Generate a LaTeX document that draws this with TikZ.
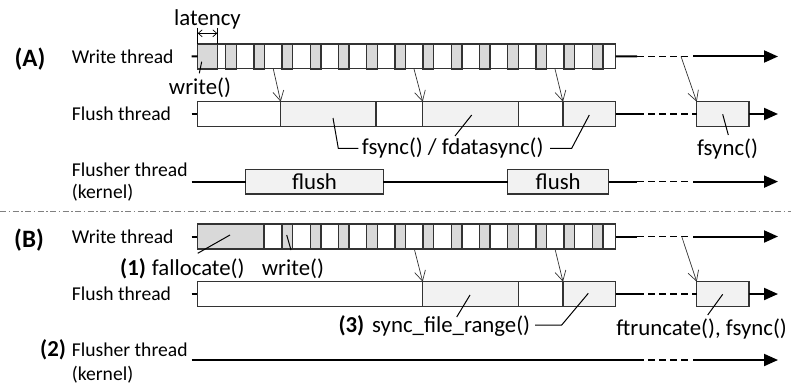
\documentclass[tikz,border=0pt]{standalone}
\usepackage{fontspec}
\setmainfont{Carlito}
\usetikzlibrary{arrows.meta}
\definecolor{cellgray}{HTML}{D9D9D9}
\definecolor{boxgray}{HTML}{F2F2F2}
\definecolor{edge}{HTML}{333333}
\begin{document}
\begin{tikzpicture}[x=1pt,y=-1pt,
  thread/.style={font=\fontsize{19.6}{22}\selectfont, anchor=base west, inner sep=0},
  call/.style={font=\fontsize{22.8}{25}\selectfont, anchor=base west, inner sep=0},
  tag/.style={font=\fontsize{25}{27}\selectfont\bfseries, inner sep=0},
  num/.style={font=\fontsize{22.8}{25}\selectfont\bfseries, anchor=base west, inner sep=0},
  seg/.style={draw=edge, line width=1.4pt, anchor=north west, inner sep=0, outer sep=0,
              minimum height=24.6pt},
  cellbox/.style={draw=edge, line width=1.4pt, fill=cellgray},
  timeline/.style={line width=2pt},
  dashpart/.style={line width=1.3pt, dash pattern=on 7pt off 4pt},
  handoff/.style={draw=edge, line width=0.7pt, -{Straight Barb[length=10pt,width=11pt]}},
  leader/.style={line width=1pt},
  endtip/.style={-{Triangle[length=14pt,width=12pt]}},
  span/.style={line width=0.7pt, {Straight Barb[length=4pt,width=7pt]}-{Straight Barb[length=4pt,width=7pt]}},
]
\useasboundingbox (0,0) rectangle (791,385);

% ---------------- (A) ----------------
\node[tag] (tagA) at (30,59) {(A)};

% write thread
\node[thread] (lwa) at (71.7,64) {Write thread};
\node[seg, minimum width=418pt] (wa) at (197.7,44) {};
\draw[cellbox] (197.7,44) rectangle (217.3,69);
\foreach \i in {0,...,13}
  \draw[cellbox] ({225.7+28.2*\i},44) rectangle ++(10.5,25);
\coordinate (wa-tick) at (191.7,56.5);
\draw[timeline] (wa-tick) -- (wa.west);
\coordinate (wa-d0) at (637,56.5);
\coordinate (wa-d1) at (690,56.5);
\coordinate (wa-s) at (693,56.5);
\coordinate (wa-end) at (778,56.5);
\draw[timeline] (wa.east) -- (wa-d0);
\draw[dashpart] (wa-d0) -- (wa-d1);
\draw[timeline, endtip] (wa-s) -- (wa-end);

% latency span
\node[call, anchor=base] (lat) at (207.5,26) {latency};
\coordinate (lat-l) at (197.7,33.3);
\coordinate (lat-r) at (217.3,33.3);
\draw[line width=0.7pt] (197.7,28) -- (197.7,44) (217.3,28) -- (217.3,44);
\draw[span] (lat-l) -- (lat-r);

% write() label
\node[call, anchor=base] (wra) at (200,95) {write()};
\coordinate (wra-a) at (201.7,61.7);
\coordinate (wra-b) at (199.3,73.3);
\draw[leader] (wra-a) -- (wra-b);

% flush thread
\node[thread] (lfa) at (71.7,120.5) {Flush thread};
\node[seg, minimum width=83.4pt] (fa1) at (197.3,101.7) {};
\node[seg, fill=boxgray, minimum width=95.3pt] (fa2) at (280.7,101.7) {};
\node[seg, minimum width=46.7pt] (fa3) at (376,101.7) {};
\node[seg, fill=boxgray, minimum width=95.6pt] (fa4) at (422.7,101.7) {};
\node[seg, minimum width=44.7pt] (fa5) at (518.3,101.7) {};
\node[seg, fill=boxgray, minimum width=52.5pt] (fa6) at (563,101.7) {};
\node[seg, fill=boxgray, minimum width=52.3pt] (fa7) at (696.7,101.7) {};
\coordinate (fa-tick) at (191.7,114);
\coordinate (fa-d0) at (637,114);
\coordinate (fa-end) at (778,114);
\draw[timeline] (fa-tick) -- (fa1.west);
\draw[timeline] (fa6.east) -- (fa-d0);
\draw[dashpart] (fa-d0) -- (fa7.west);
\draw[timeline, endtip] (fa7.east) -- (fa-end);

% hand-offs from the write thread
\coordinate (ha1) at (273.3,69);
\coordinate (ha2) at (414,69);
\coordinate (ha3) at (555,69);
\coordinate (ha4) at (681,56.5);
\draw[handoff] (ha1) -- (fa2.north west);
\draw[handoff] (ha2) -- (fa4.north west);
\draw[handoff] (ha3) -- (fa6.north west);
\draw[handoff] (ha4) -- (fa7.north west);

% sync call labels
\node[call] (fsa) at (361.7,154) {fsync() / fdatasync()};
\coordinate (la1) at (333,118);
\coordinate (la1b) at (338.3,148.3);
\coordinate (la1c) at (358.3,148.3);
\draw[leader] (la1) -- (la1b) -- (la1c);
\coordinate (la2) at (471.7,115);
\coordinate (la2b) at (455,136);
\draw[leader] (la2) -- (la2b);
\coordinate (la3) at (589.3,115);
\coordinate (la3b) at (571.7,148.3);
\coordinate (la3c) at (550,148.3);
\draw[leader] (la3) -- (la3b) -- (la3c);
\node[call, anchor=base] (fsr) at (727.5,155) {fsync()};
\coordinate (la4) at (722.7,114.3);
\coordinate (la4b) at (728.3,135);
\draw[leader] (la4) -- (la4b);

% flusher thread (kernel)
\node[thread] (lka) at (71.7,176.7) {Flusher thread};
\node[thread] (lka2) at (71.7,198.3) {(kernel)};
\node[seg, fill=boxgray, minimum width=137.6pt, font=\fontsize{22.8}{25}\selectfont] (fl1) at (245.7,169.3) {flush};
\node[seg, fill=boxgray, minimum width=101pt, font=\fontsize{22.8}{25}\selectfont] (fl2) at (507.7,169.3) {flush};
\coordinate (ka-tick) at (191.7,181.6);
\coordinate (ka-d0) at (637,181.6);
\coordinate (ka-d1) at (690,181.6);
\coordinate (ka-s) at (693,181.6);
\coordinate (ka-end) at (778,181.6);
\draw[timeline] (ka-tick) -- (fl1.west);
\draw[timeline] (fl1.east) -- (fl2.west);
\draw[timeline] (fl2.east) -- (ka-d0);
\draw[dashpart] (ka-d0) -- (ka-d1);
\draw[timeline, endtip] (ka-s) -- (ka-end);

% separator
\coordinate (sep-l) at (0,211);
\coordinate (sep-r) at (791,211);
\draw[gray, line width=1pt, dash pattern=on 6pt off 2.5pt on 1.5pt off 2.5pt] (sep-l) -- (sep-r);

% ---------------- (B) ----------------
\node[tag] (tagB) at (29,240) {(B)};

% write thread
\node[thread] (lwb) at (71.7,243.5) {Write thread};
\node[seg, minimum width=418.4pt, minimum height=25pt] (wb) at (197.3,224) {};
\draw[cellbox] (197.3,224) rectangle (264,249);
\foreach \i in {0,...,11}
  \draw[cellbox] ({282.1+28.2*\i},224) rectangle ++(10.5,25);
\coordinate (wb-tick) at (191.7,236.5);
\coordinate (wb-d0) at (637,236.5);
\coordinate (wb-d1) at (690,236.5);
\coordinate (wb-s) at (693,236.5);
\coordinate (wb-end) at (778,236.5);
\draw[timeline] (wb-tick) -- (wb.west);
\draw[timeline] (wb.east) -- (wb-d0);
\draw[dashpart] (wb-d0) -- (wb-d1);
\draw[timeline, endtip] (wb-s) -- (wb-end);

% fallocate() and write() labels
\node[num] (n1) at (120,275) {(1)};
\node[call] (fal) at (151.7,275) {fallocate()};
\node[call] (wrb) at (261.7,275) {write()};
\coordinate (lb1) at (230,235);
\coordinate (lb1b) at (197.7,253.3);
\draw[leader] (lb1) -- (lb1b);
\coordinate (lb2) at (286.7,235);
\coordinate (lb2b) at (291,250);
\draw[leader] (lb2) -- (lb2b);

% flush thread
\node[thread] (lfb) at (71.7,300.5) {Flush thread};
\node[seg, minimum width=225.4pt] (fb1) at (197.3,281.7) {};
\node[seg, fill=boxgray, minimum width=95.6pt] (fb2) at (422.7,281.7) {};
\node[seg, minimum width=44.7pt] (fb3) at (518.3,281.7) {};
\node[seg, fill=boxgray, minimum width=52.5pt] (fb4) at (563,281.7) {};
\node[seg, fill=boxgray, minimum width=52.3pt] (fb5) at (696.7,281.7) {};
\coordinate (fb-tick) at (191.7,294);
\coordinate (fb-d0) at (637,294);
\coordinate (fb-end) at (778,294);
\draw[timeline] (fb-tick) -- (fb1.west);
\draw[timeline] (fb4.east) -- (fb-d0);
\draw[dashpart] (fb-d0) -- (fb5.west);
\draw[timeline, endtip] (fb5.east) -- (fb-end);

\coordinate (hb1) at (414.3,249);
\coordinate (hb2) at (555,249);
\coordinate (hb3) at (681.7,236.5);
\draw[handoff] (hb1) -- (fb2.north west);
\draw[handoff] (hb2) -- (fb4.north west);
\draw[handoff] (hb3) -- (fb5.north west);

% sync_file_range() and ftruncate() labels
\node[num] (n3) at (338.3,332) {(3)};
\node[call] (sfr) at (372,332) {sync\_file\_range()};
\coordinate (lc1) at (470,295);
\coordinate (lc1b) at (456.7,317);
\draw[leader] (lc1) -- (lc1b);
\coordinate (lc2) at (588.3,293.3);
\coordinate (lc2b) at (561.7,325);
\coordinate (lc2c) at (535,325);
\draw[leader] (lc2) -- (lc2b) -- (lc2c);
\node[call, anchor=base east] (ftr) at (787,335) {ftruncate(), fsync()};
\coordinate (lc3) at (722.7,294.3);
\coordinate (lc3b) at (707.7,315);
\draw[leader] (lc3) -- (lc3b);

% flusher thread (kernel)
\node[num] (n2) at (40,356.7) {(2)};
\node[thread] (lkb) at (71.7,356.7) {Flusher thread};
\node[thread] (lkb2) at (71.7,380) {(kernel)};
\coordinate (kb-tick) at (191.7,360);
\coordinate (kb-d0) at (637,360);
\coordinate (kb-d1) at (690,360);
\coordinate (kb-s) at (693,360);
\coordinate (kb-end) at (778,360);
\draw[timeline] (kb-tick) -- (kb-d0);
\draw[dashpart] (kb-d0) -- (kb-d1);
\draw[timeline, endtip] (kb-s) -- (kb-end);
\end{tikzpicture}
\end{document}
